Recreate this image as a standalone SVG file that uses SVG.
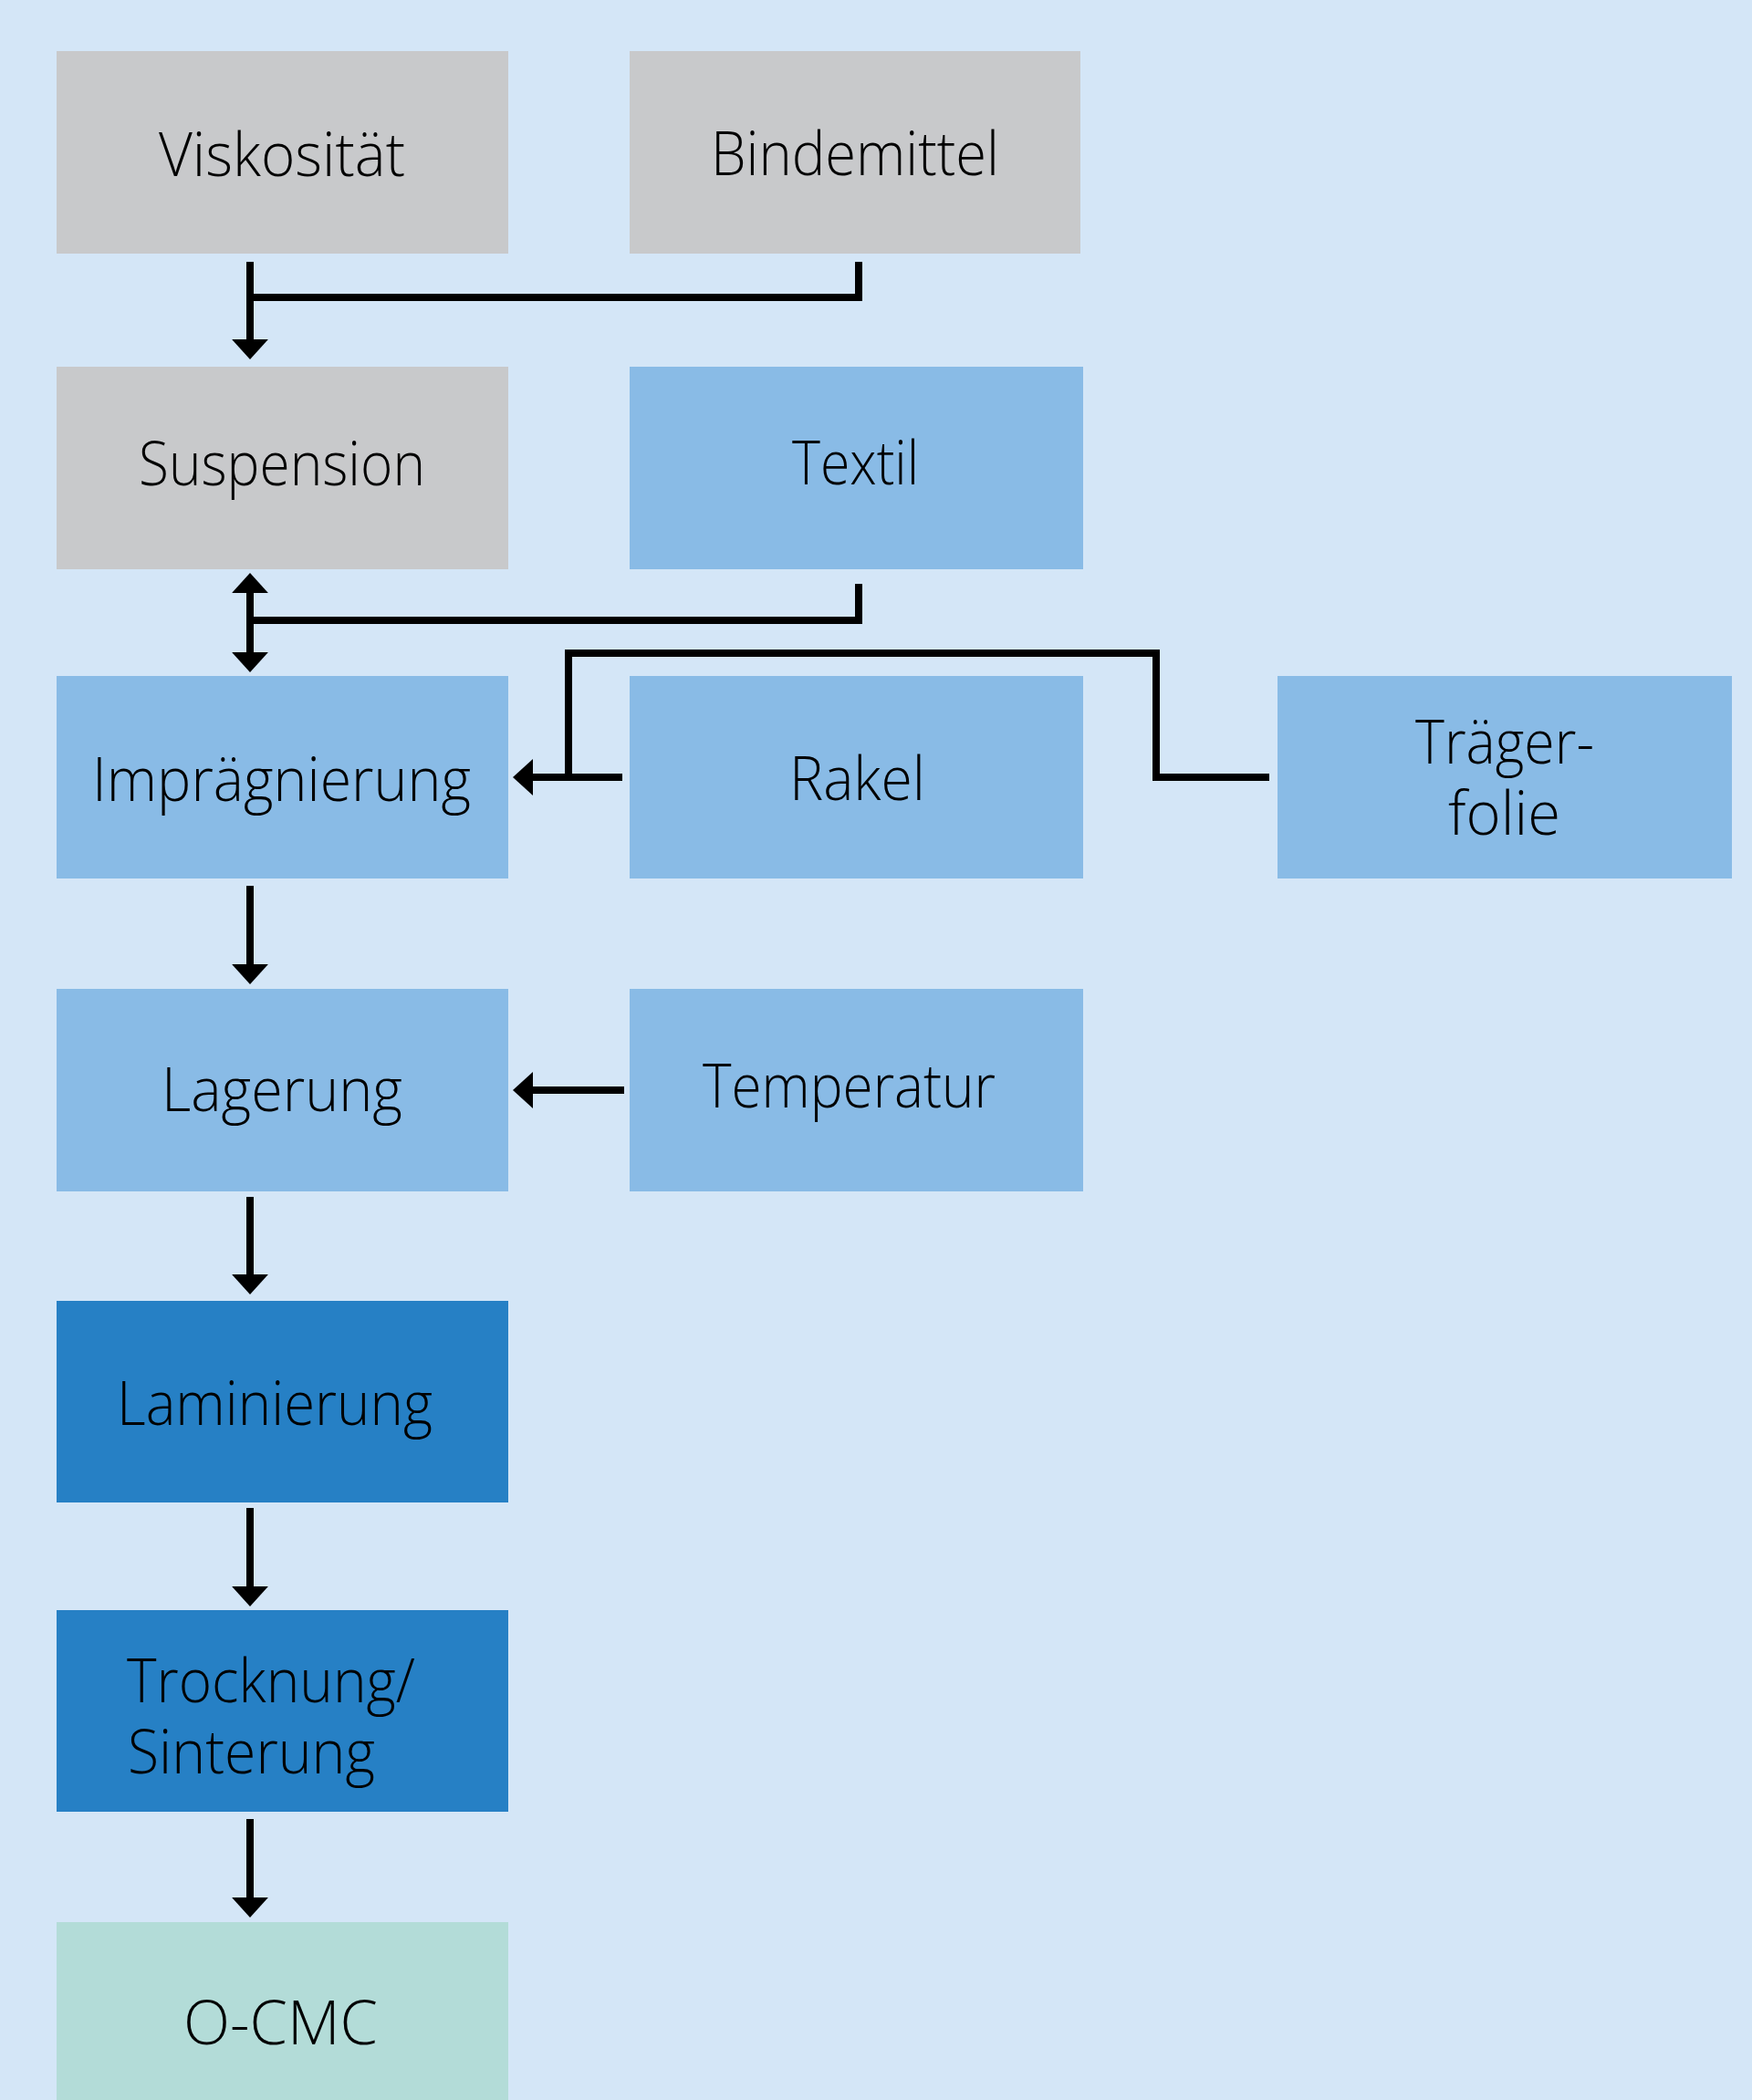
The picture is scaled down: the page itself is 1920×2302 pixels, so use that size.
<svg xmlns="http://www.w3.org/2000/svg" width="1920" height="2302" viewBox="0 0 1920 2302">
<defs>
<style>
.bg{fill:#d4e6f7}
.grey{fill:#c8c9cb}
.lb{fill:#89bbe6}
.db{fill:#2680c5}
.mint{fill:#b3dcd8}
text{font-family:"Open Sans","Noto Sans","Liberation Sans",sans-serif;font-size:66px;font-weight:300;fill:#000;}
.c{fill:none;stroke:#000;stroke-width:8;stroke-linejoin:miter;stroke-linecap:butt}
</style>
<marker id="ah" markerUnits="userSpaceOnUse" markerWidth="22" markerHeight="40" viewBox="0 0 21 38" refX="0" refY="19" orient="auto-start-reverse">
<path d="M0,0 L21,19 L0,38 Z" fill="#000"/>
</marker>
</defs>
<rect class="bg" x="0" y="0" width="1920" height="2302"/>
<g id="viskositaet"><rect class="grey" x="62" y="56" width="495" height="222"/><text x="174" y="193" textLength="270" lengthAdjust="spacingAndGlyphs">Viskosität</text></g>
<g id="bindemittel"><rect class="grey" x="690" y="56" width="494" height="222"/><text x="779" y="192" textLength="316" lengthAdjust="spacingAndGlyphs">Bindemittel</text></g>
<g id="suspension"><rect class="grey" x="62" y="402" width="495" height="222"/><text x="152" y="532" textLength="314" lengthAdjust="spacingAndGlyphs">Suspension</text></g>
<g id="textil"><rect class="lb" x="690" y="402" width="497" height="222"/><text x="868" y="531" textLength="139" lengthAdjust="spacingAndGlyphs">Textil</text></g>
<g id="impraegnierung"><rect class="lb" x="62" y="741" width="495" height="222"/><text x="101" y="878" textLength="415" lengthAdjust="spacingAndGlyphs">Imprägnierung</text></g>
<g id="rakel"><rect class="lb" x="690" y="741" width="497" height="222"/><text x="865" y="877" textLength="149" lengthAdjust="spacingAndGlyphs">Rakel</text></g>
<g id="traegerfolie"><rect class="lb" x="1400" y="741" width="498" height="222"/><text><tspan x="1551" y="837" textLength="196" lengthAdjust="spacingAndGlyphs">Träger-</tspan><tspan x="1587" y="915" textLength="123" lengthAdjust="spacingAndGlyphs">folie</tspan></text></g>
<g id="lagerung"><rect class="lb" x="62" y="1084" width="495" height="222"/><text x="177" y="1218" textLength="264" lengthAdjust="spacingAndGlyphs">Lagerung</text></g>
<g id="temperatur"><rect class="lb" x="690" y="1084" width="497" height="222"/><text x="770" y="1214" textLength="321" lengthAdjust="spacingAndGlyphs">Temperatur</text></g>
<g id="laminierung"><rect class="db" x="62" y="1426" width="495" height="221"/><text x="128" y="1562" textLength="346" lengthAdjust="spacingAndGlyphs">Laminierung</text></g>
<g id="trocknung"><rect class="db" x="62" y="1765" width="495" height="221"/><text><tspan x="139" y="1866" textLength="316" lengthAdjust="spacingAndGlyphs">Trocknung/</tspan><tspan x="140" y="1944" textLength="271" lengthAdjust="spacingAndGlyphs">Sinterung</tspan></text></g>
<g id="ocmc"><rect class="mint" x="62" y="2107" width="495" height="195"/><text x="201" y="2241" textLength="213" lengthAdjust="spacingAndGlyphs">O-CMC</text></g>
<g id="connectors">
<path class="c" d="M274,287 V372" marker-end="url(#ah)"/>
<path class="c" d="M941,287 V326 H274"/>
<path class="c" d="M274,650 V715" marker-start="url(#ah)" marker-end="url(#ah)"/>
<path class="c" d="M941,640 V680 H274"/>
<path class="c" d="M1391,852 H1267 V716 H623 V852"/>
<path class="c" d="M682,852 H584" marker-end="url(#ah)"/>
<path class="c" d="M274,971 V1057" marker-end="url(#ah)"/>
<path class="c" d="M684,1195 H584" marker-end="url(#ah)"/>
<path class="c" d="M274,1312 V1397" marker-end="url(#ah)"/>
<path class="c" d="M274,1653 V1739" marker-end="url(#ah)"/>
<path class="c" d="M274,1994 V2080" marker-end="url(#ah)"/>
</g>
</svg>
